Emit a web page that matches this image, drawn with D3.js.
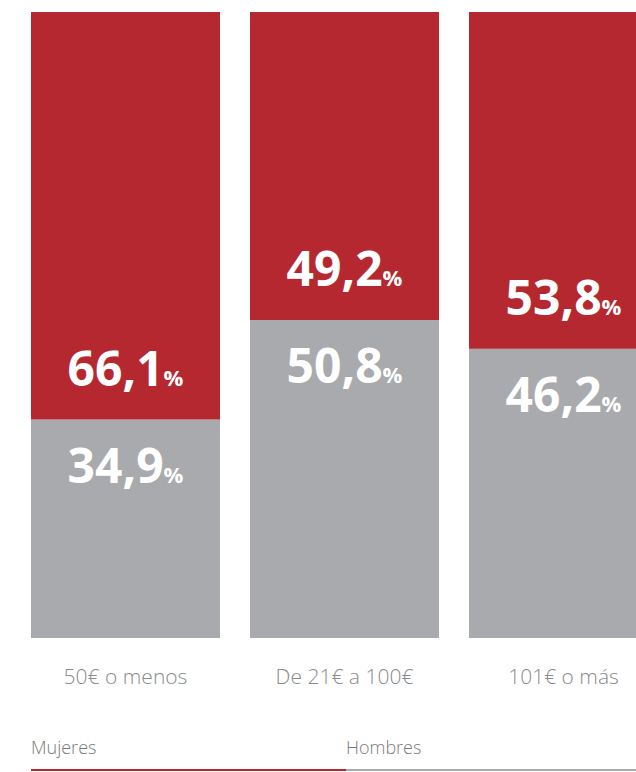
<!DOCTYPE html>
<html><head><meta charset="utf-8">
<script src="https://cdn.jsdelivr.net/npm/d3@7"></script>
<style>body{margin:0;background:#fff}svg{display:block}</style>
</head><body>
<script>
const categories = ["50€ o menos", "De 21€ a 100€", "101€ o más"];
const mujeres = [66.1, 49.2, 53.8];
const hombres = [34.9, 50.8, 46.2];
const seriesNames = ["Mujeres", "Hombres"];
const colors = {Mujeres: "#b6282f", Hombres: "#a9aaad"};

const W = 636, H = 772;
const svg = d3.select("body").append("svg").attr("width", W).attr("height", H);

const x = d3.scaleBand().domain(categories).range([31, 658]).paddingInner(30 / 219).paddingOuter(0);
const y = d3.scaleLinear().domain([0, 100]).range([638, 12]).clamp(true);

const fmt = v => d3.format(".1f")(v).replace(".", ",");

categories.forEach((c, i) => {
  const h = hombres[i], m = mujeres[i];
  const g = svg.append("g");
  g.append("rect").attr("x", x(c)).attr("width", x.bandwidth())
    .attr("y", y(h)).attr("height", y(0) - y(h)).attr("fill", colors.Hombres);
  g.append("rect").attr("x", x(c)).attr("width", x.bandwidth())
    .attr("y", y(h + m)).attr("height", y(h) - y(h + m)).attr("fill", colors.Mujeres);

  const cx = x(c) + x.bandwidth() / 2;
  const addLabel = (v, yy) => {
    const t = g.append("text").attr("x", cx).attr("y", yy).attr("text-anchor", "middle")
      .attr("fill", "#fff").attr("font-family", "'Open Sans', sans-serif").attr("font-weight", 700);
    t.append("tspan").attr("font-size", 48).text(fmt(v));
    t.append("tspan").attr("font-size", 22).text("%");
  };
  addLabel(m, y(h) - 34);
  addLabel(h, y(h) + 63);

  svg.append("text").attr("x", cx).attr("y", 684).attr("text-anchor", "middle")
    .attr("fill", "#8a8a8a").attr("font-family", "'Open Sans', sans-serif").attr("font-weight", 300)
    .attr("font-size", 21).text(c);
});

const lx = d3.scaleBand().domain(seriesNames).range([31, 661]).padding(0);
seriesNames.forEach(s => {
  svg.append("text").attr("x", lx(s)).attr("y", 754).attr("fill", "#7a7a7a")
    .attr("font-family", "'Open Sans', sans-serif").attr("font-weight", 300).attr("font-size", 18).text(s);
  svg.append("rect").attr("x", lx(s)).attr("y", 769).attr("width", lx.bandwidth()).attr("height", 2)
    .attr("fill", colors[s]);
});
</script>
</body></html>
